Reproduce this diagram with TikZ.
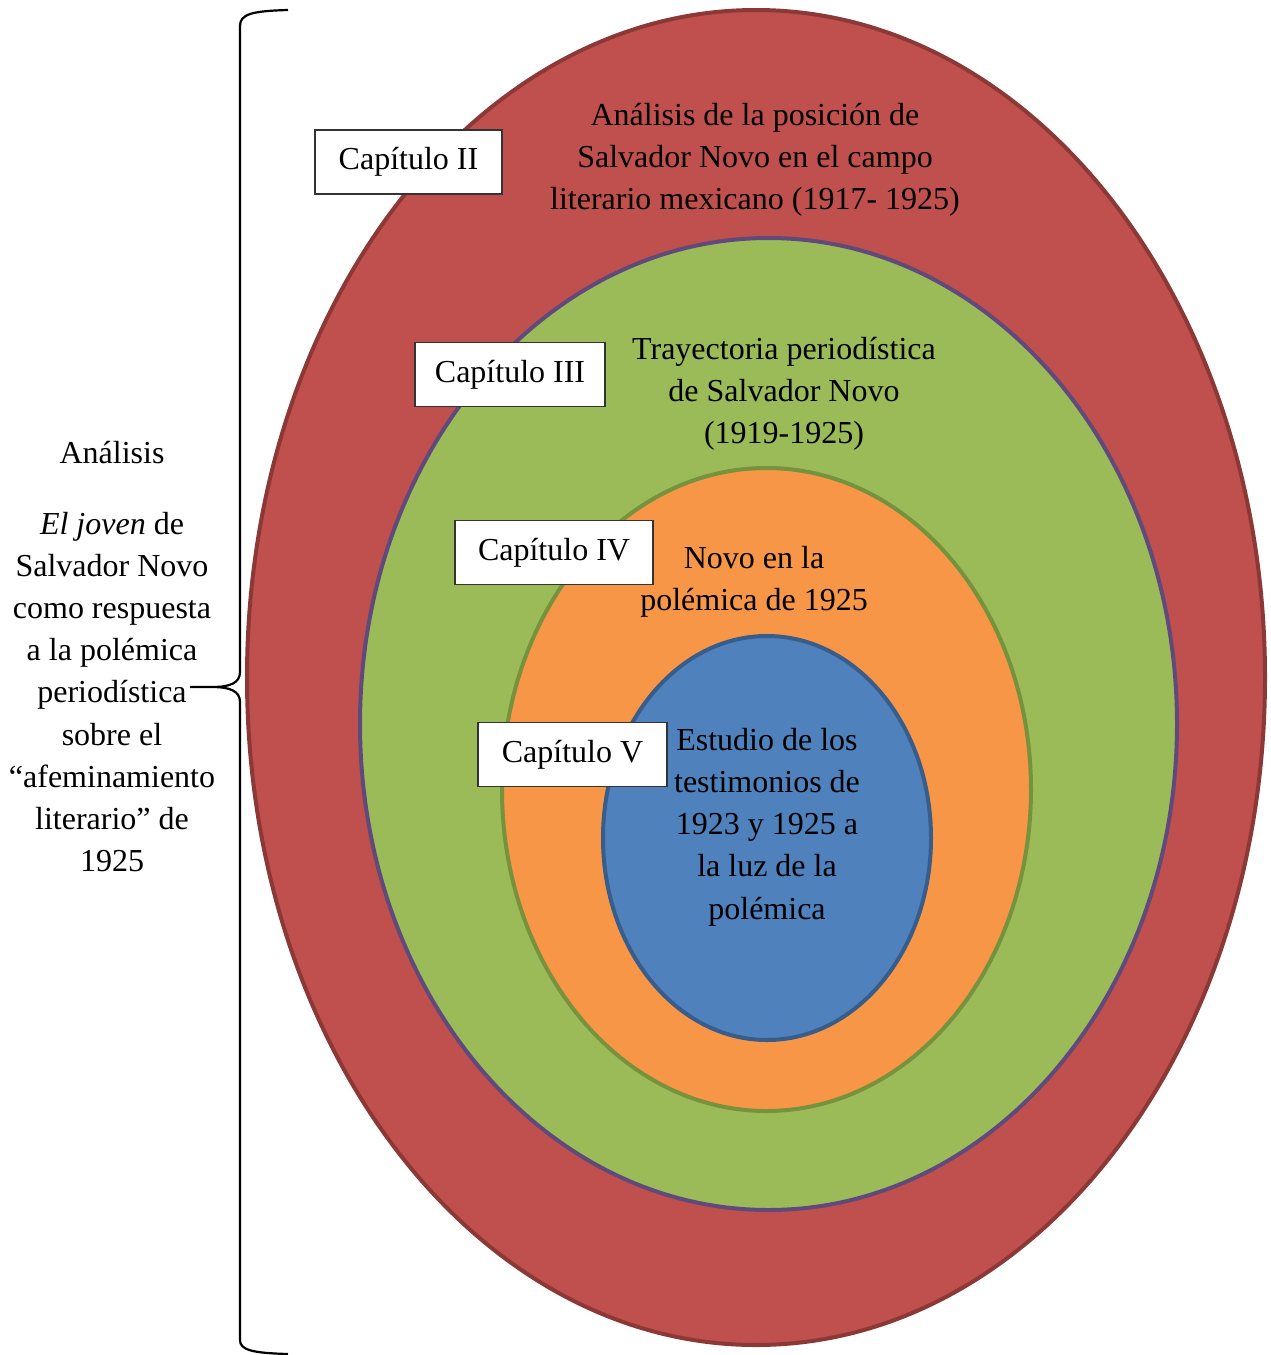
\documentclass[tikz,border=0pt]{standalone}
\usepackage{fontspec}
\setmainfont{Liberation Serif}
\usetikzlibrary{shapes.geometric,positioning}
\definecolor{ringred}{RGB}{192,80,77}
\definecolor{ringreddk}{RGB}{140,56,54}
\definecolor{ringgreen}{RGB}{155,187,89}
\definecolor{ringpurple}{RGB}{96,74,123}
\definecolor{ringorange}{RGB}{247,150,70}
\definecolor{ringolive}{RGB}{118,146,60}
\definecolor{ringblue}{RGB}{79,129,189}
\definecolor{ringbluedk}{RGB}{56,93,138}
\tikzset{
  ring/.style={ellipse, inner sep=0pt, line width=2pt},
  capbox/.style={rectangle, draw=black!80, fill=white, line width=0.75pt,
    minimum height=32pt, inner sep=0pt,
    font=\fontsize{16}{21}\selectfont},
  txt/.style={align=center, inner sep=0pt,
    font=\fontsize{16}{21.1}\selectfont}
}

\begin{document}
\begin{tikzpicture}[x=0.5pt, y=-0.5pt,
  bracearr/.style={line width=1.1pt, color=black}
]
\useasboundingbox (0,0) rectangle (1270,1355);

%% rings
\node[ring, draw=ringreddk, fill=ringred,
  minimum width=509pt, minimum height=667.5pt] (cap2ring) at (756,677.5) {};
\node[ring, draw=ringpurple, fill=ringgreen,
  minimum width=408.5pt, minimum height=486pt] (cap3ring) at (768.5,724) {};
\node[ring, draw=ringolive, fill=ringorange,
  minimum width=264.5pt, minimum height=321.5pt] (cap4ring) at (766.5,789.5) {};
\node[ring, draw=ringbluedk, fill=ringblue,
  minimum width=164pt, minimum height=202pt] (cap5ring) at (767,838) {};

%% ring texts
\node[txt] (cap2txt) at (755,160) {Análisis de la posición de\\Salvador Novo en el campo\\literario mexicano (1917- 1925)};
\node[txt] (cap3txt) at (784,394) {Trayectoria periodística\\de Salvador Novo\\(1919-1925)};
\node[txt] (cap4txt) at (754,582) {Novo en la\\polémica de 1925};
\node[txt] (cap5txt) at (767,827) {Estudio de los\\testimonios de\\1923 y 1925 a\\la luz de la\\polémica};

%% chapter boxes
\node[capbox, minimum width=93.5pt] (cap2) at (408.5,162) {\raisebox{-1pt}{Capítulo II}};
\node[capbox, minimum width=95pt]   (cap3) at (510,374.5) {Capítulo III};
\node[capbox, minimum width=99pt]   (cap4) at (554,552.5) {Capítulo IV};
\node[capbox, minimum width=94.5pt] (cap5) at (572.5,754.5) {Capítulo V};

%% left side
\node[txt] (anal) at (112,453) {Análisis};
\node[txt] (analtxt) at (112,692) {\textit{El joven} de\\Salvador Novo\\como respuesta\\a la polémica\\periodística\\sobre el\\“afeminamiento\\literario” de\\1925};

\draw[bracearr] (288,10) .. controls (252,11) and (240,14) .. (240,26)
  -- (240,672) .. controls (240,683) and (230,687) .. (212,687) -- (190,687)
  (212,687) .. controls (230,687) and (240,691) .. (240,702)
  -- (240,1340) .. controls (240,1350) and (252,1353) .. (288,1354);

\end{tikzpicture}
\end{document}
